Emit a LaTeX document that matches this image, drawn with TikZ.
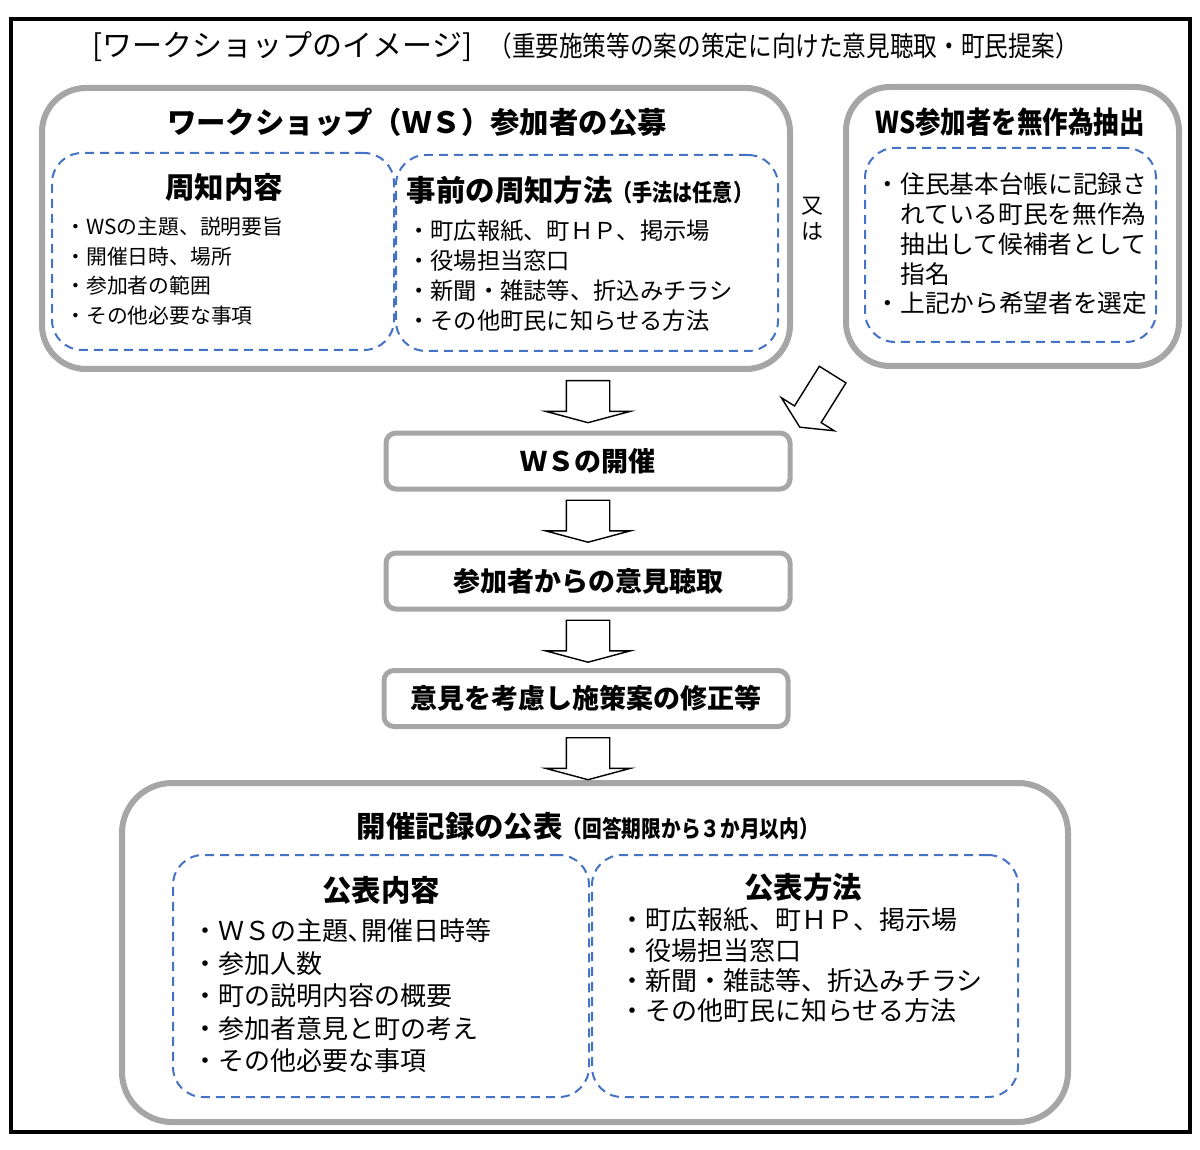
\documentclass[tikz,border=0pt]{standalone}
\usepackage{fontspec}
\setmainfont{Noto Sans CJK JP}
\newfontfamily\narrowjp{Noto Sans CJK JP}[FakeStretch=0.85]
\usetikzlibrary{positioning,calc,fit,shapes.arrows}
\definecolor{PanelGray}{RGB}{166,166,166}
\definecolor{DashBlue}{RGB}{68,114,196}
\newcommand\itemdot{\makebox[0.7em][l]{\hspace{-0.3em}・}}
\tikzset{
	outer/.style={draw=black,line width=2pt,inner sep=0pt},
	panel/.style={draw=PanelGray,line width=3pt,rounded corners=22pt,inner sep=0pt},
	group/.style={draw=DashBlue,line width=1pt,dash pattern=on 4.5pt off 3pt,rounded corners=15pt,inner sep=0pt},
	stepbox/.style={draw=PanelGray,line width=2.5pt,rounded corners=5pt,inner sep=0pt,
		minimum width=202pt,minimum height=28pt,font=\bfseries\fontsize{13.5}{16}\selectfont},
	hd/.style={font=\bfseries\fontsize{14.7}{17}\selectfont,inner sep=0pt},
	items/.style={anchor=west,align=left,inner sep=0pt},
	darrow/.style={single arrow,draw=black,fill=white,line width=0.7pt,rotate=-90,anchor=tail,
		minimum height=21pt,inner xsep=0pt,inner ysep=10.5pt,
		single arrow head extend=10.25pt,single arrow tip angle=150},
	sarrow/.style={single arrow,draw=black,fill=white,line width=0.7pt,rotate=238,anchor=tail,
		minimum height=31pt,inner xsep=0pt,inner ysep=7.5pt,
		single arrow head extend=7.75pt,single arrow tip angle=128},
}

\begin{document}
\begin{tikzpicture}[x=0.5pt,y=-0.5pt]
	\useasboundingbox (0,0) rectangle (1200,1150);
	\node[outer,fit={(11,19) (1190,1132)}] (frame) {};
	\node[inner sep=0pt] (title) at (586,47) {\fontsize{15}{17}\selectfont[ワークショップのイメージ]\hspace{8pt}\narrowjp\fontsize{13.9}{17}\selectfont（重要施策等の案の策定に向けた意見聴取・町民提案）};

	% recruitment / random draw
	\node[panel,fit={(42,88) (790,369)}] (recruit) {};
	\node[panel,fit={(846,87) (1179,366)}] (lottery) {};
	\node[group,fit={(52,153) (394,350)}] (notice) {};
	\node[group,fit={(396,155) (778,351)}] (means) {};
	\node[group,fit={(865,148) (1156,342)}] (pick) {};
	\node[hd] (recruit-t) at (417,122) {ワークショップ（ＷＳ）参加者の公募};
	\node[hd] (notice-t) at (224,187) {周知内容};
	\node[hd] (means-t) at (580,190) {事前の周知方法\narrowjp\fontsize{11.8}{14}\selectfont（手法は任意）};
	\node[hd,font=\narrowjp\bfseries\fontsize{15}{17}\selectfont] (lottery-t) at (1010,122) {WS参加者を無作為抽出};
	\node[items,font=\fontsize{10.4}{14.85}\selectfont] (notice-l) at (71.4,271) {\itemdot WSの主題、説明要旨\\\itemdot 開催日時、場所\\\itemdot 参加者の範囲\\\itemdot その他必要な事項};
	\node[items,font=\fontsize{11.65}{15}\selectfont] (means-l) at (413.7,276) {\itemdot 町広報紙、町ＨＰ、掲示場\\\itemdot 役場担当窓口\\\itemdot 新聞・雑誌等、折込みチラシ\\\itemdot その他町民に知らせる方法};
	\node[items,font=\fontsize{12.35}{14.9}\selectfont] (pick-l) at (882.7,244) {\itemdot 住民基本台帳に記録さ\\\phantom{\itemdot}れている町民を無作為\\\phantom{\itemdot}抽出して候補者として\\\phantom{\itemdot}指名\\\itemdot 上記から希望者を選定};
	\node[align=center,inner sep=0pt,font=\fontsize{11}{13}\selectfont] (or) at (812,219) {又\\は};

	% steps
	\node[stepbox] (event) at (588,461) {ＷＳの開催};
	\node[stepbox] (hearing) at (588,581) {参加者からの意見聴取};
	\node[stepbox] (revise) at (586,698.5) {意見を考慮し施策案の修正等};

	% publication
	\node[panel,rounded corners=25pt,fit={(122,783) (1068,1122)}] (publish) {};
	\node[hd] (publish-t) at (588,826) {開催記録の公表\narrowjp\fontsize{11.6}{14}\selectfont（回答期限から３か月以内）};
	\node[group,fit={(173,855) (589,1097)}] (content) {};
	\node[group,fit={(592,855) (1018,1097)}] (method) {};
	\node[hd] (content-t) at (381,890) {公表内容};
	\node[hd] (method-t) at (803,887) {公表方法};
	\node[items,font=\fontsize{13}{16.25}\selectfont] (content-l) at (199.8,996) {\itemdot ＷＳの主題､開催日時等\\\itemdot 参加人数\\\itemdot 町の説明内容の概要\\\itemdot 参加者意見と町の考え\\\itemdot その他必要な事項};
	\node[items,font=\fontsize{13}{15.15}\selectfont] (method-l) at (626.8,965.5) {\itemdot 町広報紙、町ＨＰ、掲示場\\\itemdot 役場担当窓口\\\itemdot 新聞・雑誌等、折込みチラシ\\\itemdot その他町民に知らせる方法};

	% block arrows
	\foreach \a/\b [count=\i] in {recruit/event,event/hearing,hearing/revise,revise/publish}
		\node[darrow] (arr\i) at ($(\a.south -| event.north)+(0,8)$) {};
	\node[sarrow] (diag) at (833,374) {};
\end{tikzpicture}
\end{document}
